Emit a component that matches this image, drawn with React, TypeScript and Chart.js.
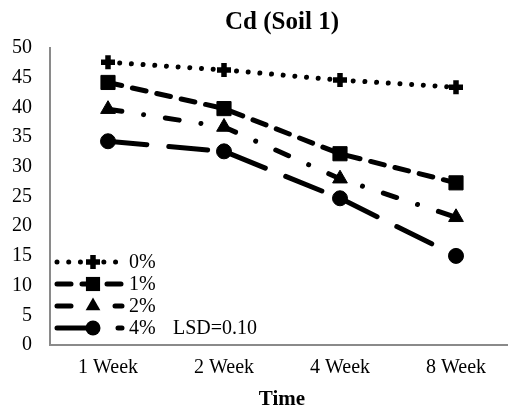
import React, { useEffect, useRef } from 'react';
import { Chart, registerables } from 'chart.js';

Chart.register(...registerables);

const categories = ['1 Week', '2 Week', '4 Week', '8 Week'];
const seriesLabels = ['0%', '1%', '2%', '4%'];
const series0 = [47.6, 46.3, 44.6, 43.4];
const series1 = [44.2, 39.8, 32.2, 27.3];
const series2 = [39.7, 36.7, 28.0, 21.5];
const series3 = [34.3, 32.6, 24.7, 15.0];
const yMin = 0;
const yMax = 50;
const yStep = 5;
const titleText = 'Cd (Soil 1)';
const xAxisTitle = 'Time';
const lsdText = 'LSD=0.10';

const FONT = '"Liberation Serif", "Times New Roman", serif';

type Style = {
  dash: number[];
  pointStyle: string;
  radius: number;
  pbw: number;
};

const styles: Style[] = [
  { dash: [0.01, 11.7], pointStyle: 'cross', radius: 7, pbw: 5.5 },
  { dash: [14, 11], pointStyle: 'rect', radius: 10, pbw: 1 },
  { dash: [14, 22, 0.01, 22], pointStyle: 'triangle', radius: 8.5, pbw: 1 },
  { dash: [39, 22], pointStyle: 'circle', radius: 7.5, pbw: 1 },
];

function drawMarker(ctx: CanvasRenderingContext2D, st: Style, x: number, y: number) {
  const r = st.radius;
  ctx.save();
  ctx.setLineDash([]);
  ctx.fillStyle = '#000';
  ctx.strokeStyle = '#000';
  ctx.beginPath();
  if (st.pointStyle === 'cross') {
    ctx.lineWidth = st.pbw;
    ctx.moveTo(x - r, y);
    ctx.lineTo(x + r, y);
    ctx.moveTo(x, y - r);
    ctx.lineTo(x, y + r);
    ctx.stroke();
  } else if (st.pointStyle === 'rect') {
    const s = Math.SQRT1_2 * r;
    ctx.rect(x - s, y - s, 2 * s, 2 * s);
    ctx.fill();
  } else if (st.pointStyle === 'triangle') {
    let rad = 0;
    ctx.moveTo(x + Math.sin(rad) * r, y - Math.cos(rad) * r);
    rad += (2 * Math.PI) / 3;
    ctx.lineTo(x + Math.sin(rad) * r, y - Math.cos(rad) * r);
    rad += (2 * Math.PI) / 3;
    ctx.lineTo(x + Math.sin(rad) * r, y - Math.cos(rad) * r);
    ctx.closePath();
    ctx.fill();
  } else {
    ctx.arc(x, y, r, 0, Math.PI * 2);
    ctx.fill();
  }
  ctx.restore();
}

const legendPlugin = {
  id: 'customLegend',
  afterDraw(chart: any) {
    const ctx: CanvasRenderingContext2D = chart.ctx;
    const area = chart.chartArea;
    const x0 = area.left + 7;
    const x1 = area.left + 72;
    const mid = area.left + 43;
    const yBase = area.bottom - 83;
    const rowGap = 22;
    ctx.save();
    seriesLabels.forEach((lab, i) => {
      const st = styles[i];
      const y = yBase + i * rowGap;
      ctx.save();
      ctx.strokeStyle = '#000';
      ctx.lineWidth = 5;
      ctx.lineCap = 'round';
      ctx.setLineDash(st.dash);
      ctx.beginPath();
      ctx.moveTo(x0, y);
      ctx.lineTo(x1, y);
      ctx.stroke();
      ctx.restore();
      drawMarker(ctx, st, mid, y);
      ctx.fillStyle = '#000';
      ctx.font = '20px ' + FONT;
      ctx.textBaseline = 'middle';
      ctx.textAlign = 'left';
      ctx.fillText(lab, area.left + 79, y + 1);
      if (i === seriesLabels.length - 1) {
        ctx.fillText(lsdText, area.left + 123, y + 1);
      }
    });
    ctx.restore();
  },
};

export default function App() {
  const ref = useRef<HTMLCanvasElement | null>(null);
  useEffect(() => {
    if (!ref.current) return;
    const all = [series0, series1, series2, series3];
    const chart = new Chart(ref.current, {
      type: 'line',
      data: {
        labels: categories,
        datasets: all.map((d, i) => ({
          label: seriesLabels[i],
          data: d,
          borderColor: '#000',
          backgroundColor: '#000',
          borderWidth: 5,
          borderDash: styles[i].dash,
          borderCapStyle: 'round' as const,
          borderJoinStyle: 'round' as const,
          pointStyle: styles[i].pointStyle as any,
          pointRadius: styles[i].radius,
          pointBackgroundColor: '#000',
          pointBorderColor: '#000',
          pointBorderWidth: styles[i].pbw,
          tension: 0,
          fill: false,
        })),
      },
      options: {
        animation: false,
        responsive: false,
        maintainAspectRatio: false,
        devicePixelRatio: 1,
        layout: { autoPadding: false, padding: { left: 12, right: 2, top: 1, bottom: 0 } },
        plugins: {
          legend: { display: false },
          tooltip: { enabled: false },
          title: {
            display: true,
            text: titleText,
            fullSize: false,
            color: '#000',
            font: { family: FONT, size: 25, weight: 'bold', lineHeight: 1.2 },
            padding: { top: 7, bottom: 10 },
          },
        },
        scales: {
          x: {
            type: 'category',
            offset: true,
            grid: { display: false, drawTicks: false },
            border: { display: true, color: '#8a8a8a', width: 2 },
            ticks: {
              color: '#000',
              padding: 11,
              font: { family: FONT, size: 20, lineHeight: 1.2 },
            },
            title: {
              display: true,
              text: xAxisTitle,
              color: '#000',
              font: { family: FONT, size: 21, weight: 'bold', lineHeight: 1 },
              padding: { top: 9, bottom: 0 },
            },
            afterFit: (scale: any) => {
              scale.height = 65;
            },
          },
          y: {
            min: yMin,
            max: yMax,
            grid: { display: false, drawTicks: false },
            border: { display: true, color: '#8a8a8a', width: 2 },
            ticks: {
              stepSize: yStep,
              color: '#000',
              padding: 18,
              font: { family: FONT, size: 20, lineHeight: 1.2 },
            },
            afterFit: (scale: any) => {
              scale.width = 38;
            },
          },
        },
      },
      plugins: [legendPlugin],
    });
    return () => chart.destroy();
  }, []);
  return (
    <div style={{ position: 'absolute', left: 0, top: 0, width: 508, height: 410, overflow: 'hidden', background: '#fff' }}>
      <canvas ref={ref} width={516} height={410} style={{ width: 516, height: 410, display: 'block' }} />
    </div>
  );
}
